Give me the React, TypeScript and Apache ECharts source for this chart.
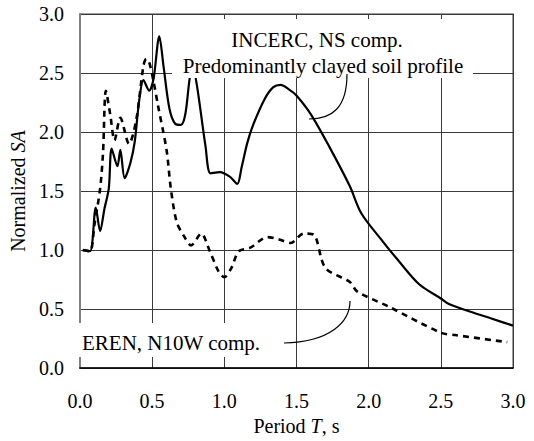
import React, { useEffect, useRef } from "react";
import * as echarts from "echarts";

const FONT = "Liberation Serif";

// INCERC, NS comp. (solid)
const incercT = [0.02, 0.07, 0.11, 0.14, 0.17, 0.2, 0.22, 0.26, 0.28, 0.31, 0.35, 0.38, 0.41, 0.44, 0.48, 0.51, 0.55, 0.58, 0.62, 0.66, 0.7, 0.73, 0.76, 0.78, 0.81, 0.87, 0.905, 0.97, 1.04, 1.09, 1.12, 1.16, 1.2, 1.28, 1.34, 1.39, 1.45, 1.5, 1.6, 1.73, 1.87, 1.95, 2.1, 2.2, 2.35, 2.5, 2.56, 2.7, 2.85, 3.0];
const incercSA = [1.0, 0.99, 1.36, 1.16, 1.35, 1.52, 1.86, 1.71, 1.85, 1.61, 1.74, 1.92, 2.26, 2.44, 2.35, 2.45, 2.81, 2.55, 2.2, 2.07, 2.06, 2.15, 2.45, 2.55, 2.4, 1.88, 1.65, 1.66, 1.62, 1.56, 1.7, 1.91, 2.06, 2.28, 2.38, 2.4, 2.36, 2.31, 2.15, 1.87, 1.54, 1.31, 1.07, 0.92, 0.71, 0.59, 0.54, 0.48, 0.42, 0.36];

// EREN, N10W comp. (dashed)
const erenT = [0.02, 0.07, 0.1, 0.14, 0.16, 0.18, 0.21, 0.24, 0.28, 0.34, 0.39, 0.44, 0.46, 0.48, 0.51, 0.54, 0.6, 0.63, 0.67, 0.72, 0.77, 0.84, 0.9, 0.96, 1.0, 1.05, 1.1, 1.18, 1.3, 1.38, 1.46, 1.55, 1.62, 1.7, 1.87, 1.92, 2.14, 2.5, 2.6, 2.96];
const erenSA = [1.0, 0.99, 1.21, 1.52, 1.82, 2.35, 2.15, 1.93, 2.12, 1.9, 2.1, 2.56, 2.62, 2.59, 2.43, 2.23, 1.85, 1.52, 1.24, 1.12, 1.04, 1.14, 0.99, 0.82, 0.77, 0.85, 0.99, 1.02, 1.11, 1.09, 1.06, 1.14, 1.13, 0.85, 0.73, 0.65, 0.52, 0.3, 0.28, 0.22];

const xTicks = [0, 0.5, 1.0, 1.5, 2.0, 2.5, 3.0];
const yTicks = [0, 0.5, 1.0, 1.5, 2.0, 2.5, 3.0];

const labelIncerc1 = "INCERC, NS comp.";
const labelIncerc2 = "Predominantly clayed soil profile";
const labelEren = "EREN, N10W comp.";

export default function App() {
  const ref = useRef<HTMLDivElement>(null);
  useEffect(() => {
    if (!ref.current) return;
    const chart = echarts.init(ref.current, null, { renderer: "svg" });
    const fmt = (v: number) => v.toFixed(1);
    chart.setOption({
      animation: false,
      backgroundColor: "#fff",
      textStyle: { fontFamily: FONT },
      grid: {
        left: 72,
        right: 21,
        top: 14,
        bottom: 65,
        show: true,
        borderColor: "#808080",
        borderWidth: 1.5,
      },
      xAxis: {
        type: "value",
        min: xTicks[0],
        max: xTicks[xTicks.length - 1],
        interval: 0.5,
        name: "Period {i|T}, s",
        nameLocation: "middle",
        nameGap: 46,
        nameTextStyle: {
          fontFamily: FONT,
          fontSize: 20,
          color: "#000",
          rich: { i: { fontFamily: FONT, fontSize: 20, fontStyle: "italic", color: "#000" } },
        },
        axisLine: { show: true, lineStyle: { color: "#000", width: 1.5 } },
        axisTick: { show: false },
        axisLabel: { fontFamily: FONT, fontSize: 20, color: "#000", margin: 23, formatter: fmt },
        splitLine: { show: true, lineStyle: { color: "#3a3a3a", width: 1 } },
      },
      yAxis: {
        type: "value",
        min: yTicks[0],
        max: yTicks[yTicks.length - 1],
        interval: 0.5,
        name: "Normalized {i|SA}",
        nameLocation: "middle",
        nameGap: 43,
        nameTextStyle: {
          fontFamily: FONT,
          fontSize: 20,
          color: "#000",
          rich: { i: { fontFamily: FONT, fontSize: 20, fontStyle: "italic", color: "#000" } },
        },
        axisLine: { show: true, lineStyle: { color: "#808080", width: 2 } },
        axisTick: { show: false },
        axisLabel: { fontFamily: FONT, fontSize: 20, color: "#000", margin: 16, formatter: fmt },
        splitLine: { show: true, lineStyle: { color: "#3a3a3a", width: 1 } },
      },
      series: [
        {
          type: "line",
          name: labelIncerc1,
          data: incercT.map((t, i) => [t, incercSA[i]]),
          showSymbol: false,
          smooth: 0.3,
          lineStyle: { color: "#000", width: 2.2, type: "solid" },
          z: 3,
        },
        {
          type: "line",
          name: labelEren,
          data: erenT.map((t, i) => [t, erenSA[i]]),
          showSymbol: false,
          smooth: 0.3,
          lineStyle: { color: "#000", width: 2.6, type: [6, 5] },
          z: 3,
        },
      ],
      graphic: [
        { type: "rect", z: 100, shape: { x: 172, y: 19, width: 301, height: 59 }, style: { fill: "#fff" } },
        { type: "rect", z: 100, shape: { x: 74, y: 323, width: 202, height: 34 }, style: { fill: "#fff" } },
        {
          type: "text", z: 101, x: 317, y: 40,
          style: { text: labelIncerc1, fontFamily: FONT, fontSize: 21, fill: "#000", align: "center", verticalAlign: "middle" },
        },
        {
          type: "text", z: 101, x: 323, y: 66,
          style: { text: labelIncerc2, fontFamily: FONT, fontSize: 21, fill: "#000", align: "center", verticalAlign: "middle" },
        },
        {
          type: "text", z: 101, x: 82, y: 343,
          style: { text: labelEren, fontFamily: FONT, fontSize: 21, fill: "#000", align: "left", verticalAlign: "middle" },
        },
        {
          type: "bezierCurve", z: 102,
          shape: { x1: 347, y1: 74, cpx1: 347, cpy1: 108, cpx2: 332, cpy2: 119, x2: 309, y2: 119 },
          style: { stroke: "#000", lineWidth: 1.2, fill: "none" },
        },
        {
          type: "bezierCurve", z: 102,
          shape: { x1: 284, y1: 343, cpx1: 330, cpy1: 342, cpx2: 350, cpy2: 322, x2: 350, y2: 301 },
          style: { stroke: "#000", lineWidth: 1.2, fill: "none" },
        },
      ],
    });
    return () => chart.dispose();
  }, []);
  return <div ref={ref} style={{ position: "fixed", left: 0, top: 0, width: 534, height: 441 }} />;
}
